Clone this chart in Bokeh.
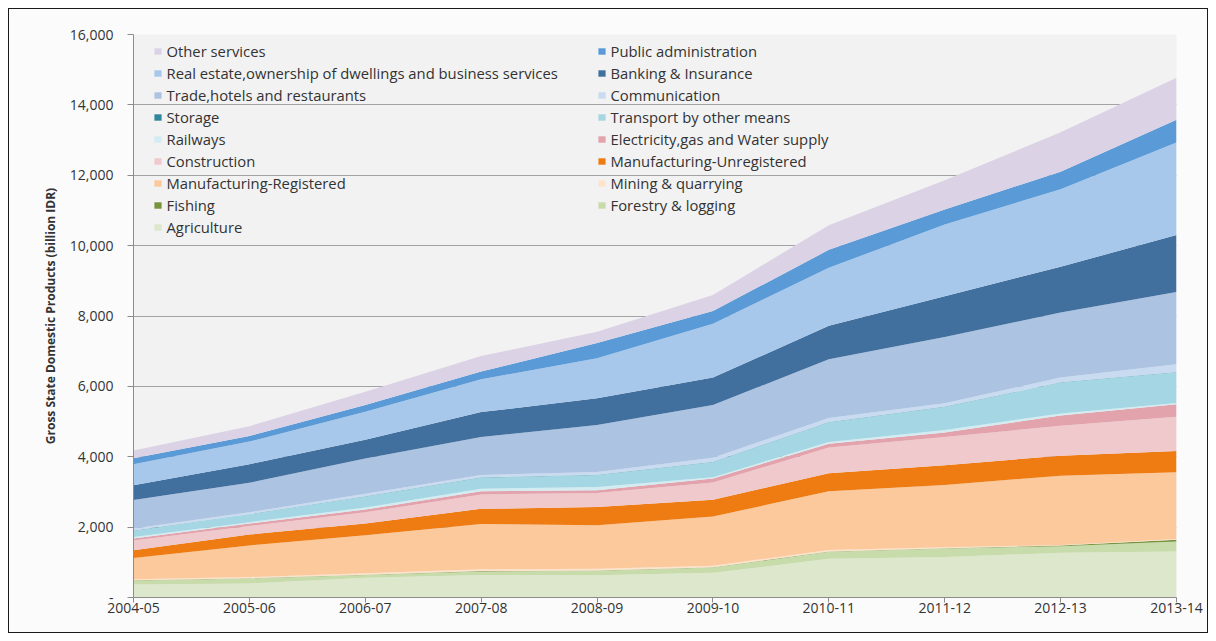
from bokeh.plotting import figure
from bokeh.layouts import column
from bokeh.models import (ColumnDataSource, Legend, LegendItem, FixedTicker,
                          NumeralTickFormatter, Range1d)
from bokeh.embed import file_html
from bokeh.resources import INLINE

# ---------------- data (billion IDR) ----------------
years = ["2004-05", "2005-06", "2006-07", "2007-08", "2008-09",
         "2009-10", "2010-11", "2011-12", "2012-13", "2013-14"]

agriculture       = [370, 400, 560, 640, 630, 700, 1100, 1150, 1270, 1310]
forestry_logging  = [110, 140, 80, 100, 130, 150, 200, 240, 190, 280]
fishing           = [10, 10, 10, 10, 10, 10, 10, 10, 15, 50]
mining_quarrying  = [30, 30, 40, 50, 50, 40, 40, 30, 15, 20]
manuf_registered  = [600, 900, 1080, 1290, 1230, 1400, 1670, 1770, 1970, 1900]
manuf_unregistered = [220, 310, 330, 430, 520, 480, 510, 560, 570, 600]
construction      = [280, 240, 320, 410, 400, 490, 730, 800, 850, 980]
electricity       = [60, 70, 80, 90, 80, 110, 110, 130, 290, 350]
railways          = [40, 40, 60, 70, 90, 40, 50, 70, 60, 40]
transport_other   = [180, 230, 310, 320, 340, 430, 560, 660, 880, 870]
storage           = [5, 5, 5, 5, 5, 5, 5, 5, 5, 10]
communication     = [55, 45, 75, 65, 85, 115, 115, 95, 135, 220]
trade_hotels      = [810, 840, 1000, 1080, 1330, 1500, 1670, 1880, 1850, 2050]
banking_insurance = [420, 530, 530, 710, 760, 780, 950, 1160, 1300, 1620]
real_estate       = [600, 640, 800, 930, 1140, 1530, 1650, 2040, 2200, 2630]
public_admin      = [170, 160, 190, 220, 430, 360, 510, 430, 500, 645]
other_services    = [220, 280, 380, 440, 320, 460, 700, 830, 1120, 1195]

y_ticks = [0, 2000, 4000, 6000, 8000, 10000, 12000, 14000, 16000]

# bottom-up stacking order
series = [
    ("Agriculture", agriculture, "#dce7cb"),
    ("Forestry & logging", forestry_logging, "#c8dbaa"),
    ("Fishing", fishing, "#77933c"),
    ("Mining & quarrying", mining_quarrying, "#fde3cc"),
    ("Manufacturing-Registered", manuf_registered, "#fbc99c"),
    ("Manufacturing-Unregistered", manuf_unregistered, "#ee7c12"),
    ("Construction", construction, "#f0c9cd"),
    ("Electricity,gas and Water supply", electricity, "#e3a3ad"),
    ("Railways", railways, "#d3ecf2"),
    ("Transport by other means", transport_other, "#a4d6e3"),
    ("Storage", storage, "#31859c"),
    ("Communication", communication, "#c9dbf0"),
    ("Trade,hotels and restaurants", trade_hotels, "#adc3e2"),
    ("Banking & Insurance", banking_insurance, "#41709f"),
    ("Real estate,ownership of dwellings and business services", real_estate, "#a7c8eb"),
    ("Public administration", public_admin, "#5a9ad7"),
    ("Other services", other_services, "#dbd2e6"),
]

xs = list(range(len(years)))
data = {"x": xs}
keys = []
for i, (name, vals, col) in enumerate(series):
    k = "s%d" % i
    data[k] = vals
    keys.append(k)
source = ColumnDataSource(data)

FONT = "Open Sans"
TXT = "#333333"

# figure placed inside a framed container starting at ~9px
p = figure(width=1198, height=623, output_backend="svg", toolbar_location=None,
           x_range=Range1d(xs[0], xs[-1]), y_range=Range1d(y_ticks[0], y_ticks[-1]),
           min_border_left=124, min_border_right=31,
           min_border_top=25, min_border_bottom=35)
p.background_fill_color = "#f2f2f2"
p.border_fill_color = "#fbfbfb"
p.outline_line_color = None

renderers = p.varea_stack(stackers=keys, x="x", source=source,
                          color=[s[2] for s in series])

# axes
p.xaxis.ticker = FixedTicker(ticks=xs)
p.xaxis.major_label_overrides = {i: y for i, y in enumerate(years)}
p.yaxis.ticker = FixedTicker(ticks=y_ticks)
p.yaxis.formatter = NumeralTickFormatter(format="0,0")
p.yaxis.major_label_overrides = {0: "-"}
p.yaxis.axis_label = "Gross State Domestic Products (billion IDR)"
p.yaxis.axis_label_text_font = FONT
p.yaxis.axis_label_text_font_size = "12px"
p.yaxis.axis_label_text_font_style = "bold"
p.yaxis.axis_label_text_color = TXT
p.yaxis.axis_label_standoff = 8
p.yaxis.major_label_standoff = 14
p.xaxis.major_label_standoff = 0

for ax in (p.xaxis, p.yaxis):
    ax.axis_line_color = "#8c8c8c"
    ax.major_tick_line_color = "#8c8c8c"
    ax.minor_tick_line_color = None
    ax.major_tick_in = 0
    ax.major_label_text_font = FONT
    ax.major_label_text_font_size = "14px"
    ax.major_label_text_color = TXT
p.yaxis.major_tick_out = 6
p.xaxis.major_tick_out = 5

p.xgrid.visible = False
p.ygrid.ticker = FixedTicker(ticks=y_ticks)
p.ygrid.grid_line_color = "#a3a3a3"
p.ygrid.grid_line_width = 1

# legends (two columns, row-major, reversed order)
items = [LegendItem(label=series[i][0], renderers=[renderers[i]])
         for i in range(len(series) - 1, -1, -1)]
col1 = items[0::2]
col2 = items[1::2]


def make_legend(its, loc):
    lg = Legend(items=its, location=loc, orientation="vertical",
                glyph_width=9, glyph_height=8, label_standoff=5,
                label_height=22, spacing=0, padding=0, margin=0,
                label_text_font=FONT, label_text_font_size="14.8px",
                label_text_color=TXT,
                background_fill_alpha=0, border_line_alpha=0,
                inactive_fill_alpha=0)
    return lg


p.add_layout(make_legend(col1, (20, 359)))
p.add_layout(make_legend(col2, (464, 381)))

page = column(p, styles={"border": "1.5px solid #1a1a1a",
                         "margin-left": "7.5px", "margin-top": "7.5px",
                         "background-color": "#fbfbfb"})

open("out.html", "w").write(file_html(page, INLINE))
